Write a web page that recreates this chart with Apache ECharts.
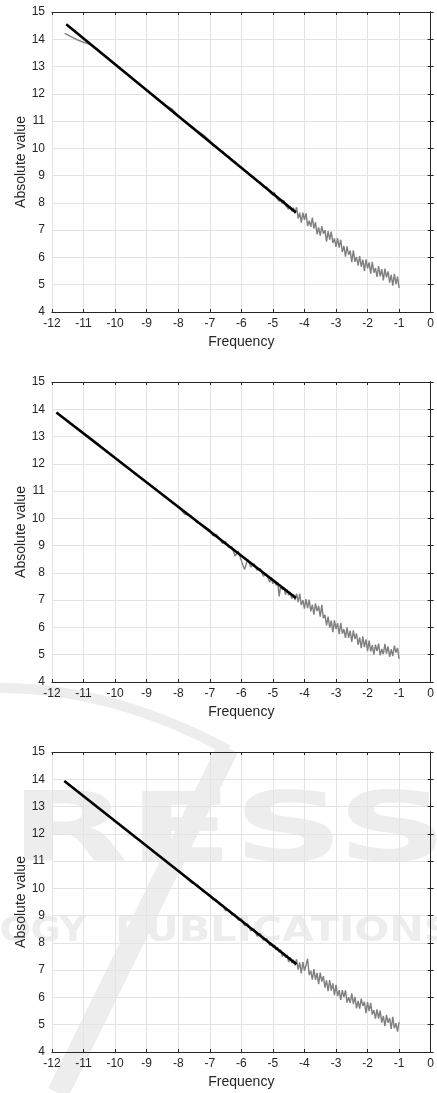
<!DOCTYPE html>
<html>
<head>
<meta charset="utf-8">
<script src="https://cdn.jsdelivr.net/npm/echarts@6/dist/echarts.min.js"></script>
<style>
  html, body { margin: 0; padding: 0; background: #fff; }
  #chart { width: 437px; height: 1093px; }
</style>
</head>
<body>
<div id="chart"></div>
<script>
// shared frequency grid of the measured (gray) curves
var freq = [
  -11.85, -11.6, -11.4, -11.2, -11.0, -10.8, -10.6, -10.4, -10.2, -10.0, -9.8, -9.6,
  -9.4, -9.2, -9.0, -8.8, -8.6, -8.4, -8.2, -8.0, -7.8, -7.6, -7.4, -7.2,
  -7.0, -6.9, -6.8, -6.7, -6.6, -6.5, -6.4, -6.3, -6.2, -6.1,
  -6.0, -5.9, -5.8, -5.7, -5.6, -5.5, -5.4, -5.3, -5.2, -5.1,
  -5.05, -5.00, -4.95, -4.90, -4.85, -4.80, -4.75, -4.70, -4.65, -4.60,
  -4.55, -4.50, -4.45, -4.40, -4.35, -4.30, -4.25, -4.20, -4.15, -4.10,
  -4.05, -4.00, -3.95, -3.90, -3.85, -3.80, -3.75, -3.70, -3.65, -3.60,
  -3.55, -3.50, -3.45, -3.40, -3.35, -3.30, -3.25, -3.20, -3.15, -3.10,
  -3.05, -3.00, -2.95, -2.90, -2.85, -2.80, -2.75, -2.70, -2.65, -2.60,
  -2.55, -2.50, -2.45, -2.40, -2.35, -2.30, -2.25, -2.20, -2.15, -2.10,
  -2.05, -2.00, -1.95, -1.90, -1.85, -1.80, -1.75, -1.70, -1.65, -1.60,
  -1.55, -1.50, -1.45, -1.40, -1.35, -1.30, -1.25, -1.20, -1.15, -1.10,
  -1.05, -1.00
];

// top plot
var abs1 = [
  null, 14.22, 14.10, 13.98, 13.89, 13.81, 13.66, 13.47, 13.28, 13.07, 12.90, 12.71,
  12.50, 12.33, 12.12, 11.95, 11.76, 11.58, 11.45, 11.20, 11.00, 10.84, 10.64, 10.50,
  10.28, 10.13, 10.08, 9.93, 9.90, 9.74, 9.70, 9.55, 9.51, 9.36,
  9.31, 9.18, 9.12, 8.98, 8.94, 8.79, 8.76, 8.60, 8.58, 8.40,
  8.44, 8.28, 8.38, 8.21, 8.27, 8.06, 8.14, 7.99, 8.09, 7.91,
  7.98, 7.77, 7.86, 7.69, 7.82, 7.62, 7.84, 7.43, 7.64, 7.28,
  7.64, 7.38, 7.62, 7.15, 7.35, 7.12, 7.46, 7.06, 7.29, 6.85,
  7.10, 6.80, 7.15, 6.87, 7.00, 6.58, 6.97, 6.65, 6.95, 6.53,
  6.70, 6.39, 6.71, 6.36, 6.65, 6.20, 6.42, 6.03, 6.41, 6.10,
  6.25, 5.83, 6.26, 5.84, 6.02, 5.70, 6.05, 5.66, 5.92, 5.50,
  5.93, 5.60, 5.82, 5.41, 5.84, 5.44, 5.61, 5.29, 5.68, 5.31,
  5.57, 5.16, 5.59, 5.27, 5.49, 5.08, 5.36, 4.97, 5.40, 5.02,
  5.30, 4.88
];
var fit1 = [[-11.55, 14.55], [-4.27, 7.65]];

// middle plot
var abs2 = [
  13.88, 13.66, 13.48, 13.31, 13.14, 12.97, 12.79, 12.60, 12.41, 12.22, 12.03, 11.86,
  11.67, 11.50, 11.31, 11.15, 10.95, 10.79, 10.58, 10.44, 10.16, 10.10, 9.84, 9.74,
  9.58, 9.36, 9.42, 9.28, 9.08, 9.15, 8.93, 8.96, 8.62, 8.80,
  8.45, 8.12, 8.50, 8.22, 8.34, 8.10, 8.16, 7.88, 7.96, 7.66,
  7.84, 7.60, 7.74, 7.55, 7.66, 7.14, 7.56, 7.38, 7.47, 7.20,
  7.38, 7.18, 7.30, 7.06, 7.22, 7.00, 7.24, 6.93, 7.24, 6.82,
  7.00, 6.69, 7.04, 6.71, 7.02, 6.59, 6.84, 6.47, 6.88, 6.60,
  6.79, 6.40, 6.83, 6.34, 6.46, 6.08, 6.40, 5.99, 6.25, 5.83,
  6.26, 5.94, 6.16, 5.75, 6.17, 5.77, 5.94, 5.62, 6.00, 5.62,
  5.88, 5.47, 5.89, 5.57, 5.78, 5.36, 5.64, 5.24, 5.67, 5.28,
  5.56, 5.13, 5.52, 5.12, 5.35, 5.00, 5.37, 5.13, 5.41, 4.98,
  5.21, 5.02, 5.40, 5.04, 5.31, 4.92, 5.20, 4.95, 5.33, 5.08,
  5.25, 4.85
];
var fit2 = [[-11.86, 13.88], [-4.27, 7.08]];

// bottom plot
var abs3 = [
  null, 13.93, 13.76, 13.56, 13.39, 13.21, 13.01, 12.85, 12.64, 12.48, 12.28, 12.11,
  11.91, 11.75, 11.55, 11.38, 11.18, 11.02, 10.82, 10.65, 10.45, 10.22, 10.12, 9.89,
  9.76, 9.58, 9.60, 9.42, 9.40, 9.18, 9.22, 9.03, 9.05, 8.84,
  8.88, 8.64, 8.70, 8.44, 8.52, 8.25, 8.34, 8.10, 8.16, 7.90,
  8.00, 7.84, 7.93, 7.74, 7.84, 7.66, 7.75, 7.50, 7.64, 7.46,
  7.56, 7.30, 7.47, 7.26, 7.38, 7.18, 7.40, 7.02, 7.29, 6.88,
  7.30, 6.98, 7.19, 7.42, 6.82, 6.98, 6.65, 7.04, 6.65, 6.90,
  6.49, 6.91, 6.58, 6.78, 6.36, 6.63, 6.23, 6.64, 6.25, 6.52,
  6.08, 6.46, 6.05, 6.27, 5.91, 6.27, 6.01, 6.26, 5.81, 6.01,
  5.80, 6.15, 5.76, 6.02, 5.60, 5.87, 5.59, 5.96, 5.69, 5.84,
  5.42, 5.83, 5.50, 5.80, 5.37, 5.54, 5.22, 5.56, 5.22, 5.52,
  5.08, 5.32, 4.95, 5.36, 5.07, 5.25, 4.85, 5.29, 4.87, 5.06,
  4.75, 5.10
];
var fit3 = [[-11.61, 13.94], [-4.25, 7.22]];

var xTicks = { min: -12, max: 0, interval: 1 };
var yTicks = { min: 4, max: 15, interval: 1 };
var gridTops = [12, 382, 752];

var axisColor = '#262626';
var font = 'Liberation Sans, Arial, sans-serif';

function pairs(ys) {
  var out = [];
  for (var i = 0; i < freq.length; i++) {
    if (ys[i] !== null) out.push([freq[i], ys[i]]);
  }
  return out;
}

var grids = [], xAxes = [], yAxes = [], series = [];
var grays = [abs1, abs2, abs3];
var fits = [fit1, fit2, fit3];

for (var g = 0; g < 3; g++) {
  grids.push({ left: 52, right: 5, top: gridTops[g], height: 300 });

  xAxes.push({
    type: 'value', gridIndex: g, position: 'bottom',
    min: xTicks.min, max: xTicks.max, interval: xTicks.interval,
    name: 'Frequency', nameLocation: 'middle', nameGap: 23,
    nameTextStyle: { color: axisColor, fontSize: 14, fontFamily: font },
    axisLine: { lineStyle: { color: axisColor, width: 1 } },
    axisTick: { inside: true, length: 3, lineStyle: { color: axisColor } },
    axisLabel: { color: axisColor, fontSize: 12, fontFamily: font, margin: 6, showMinLabel: true, showMaxLabel: true },
    splitLine: { show: true, lineStyle: { color: '#e3e3e3', width: 1 } }
  });
  xAxes.push({
    type: 'value', gridIndex: g, position: 'top',
    min: xTicks.min, max: xTicks.max, interval: xTicks.interval,
    axisLine: { lineStyle: { color: axisColor, width: 1 } },
    axisTick: { inside: true, length: 3, lineStyle: { color: axisColor } },
    axisLabel: { show: false },
    splitLine: { show: false }
  });

  yAxes.push({
    type: 'value', gridIndex: g, position: 'left',
    min: yTicks.min, max: yTicks.max, interval: yTicks.interval,
    name: 'Absolute value', nameLocation: 'middle', nameGap: 24, nameMoveOverlap: false,
    nameTextStyle: { color: axisColor, fontSize: 14, fontFamily: font },
    axisLine: { show: true, lineStyle: { color: axisColor, width: 1 } },
    axisTick: { show: true, inside: true, length: 3, lineStyle: { color: axisColor } },
    axisLabel: { color: axisColor, fontSize: 12, fontFamily: font, margin: 7, showMinLabel: true, showMaxLabel: true },
    splitLine: { show: true, lineStyle: { color: '#e3e3e3', width: 1 } }
  });
  yAxes.push({
    type: 'value', gridIndex: g, position: 'right',
    min: yTicks.min, max: yTicks.max, interval: yTicks.interval,
    axisLine: { show: true, lineStyle: { color: axisColor, width: 1 } },
    axisTick: { show: true, inside: true, length: 3, lineStyle: { color: axisColor } },
    axisLabel: { show: false },
    splitLine: { show: false }
  });

  series.push({
    type: 'line', xAxisIndex: g * 2, yAxisIndex: g * 2,
    data: pairs(grays[g]), showSymbol: false, symbol: 'none',
    lineStyle: { color: '#808080', width: 1.4 }, z: 3
  });
  series.push({
    type: 'line', xAxisIndex: g * 2, yAxisIndex: g * 2,
    data: fits[g], showSymbol: false, symbol: 'none',
    lineStyle: { color: '#000000', width: 2.6 }, z: 4
  });
}

// faint publisher watermark behind the lower plots
var wm = '#ededed';
var chart = echarts.init(document.getElementById('chart'));
chart.setOption({
  animation: false,
  backgroundColor: '#ffffff',
  graphic: {
    elements: [
      { type: 'bezierCurve', z: -10, silent: true,
        shape: { x1: -5, y1: 688, x2: 228, y2: 750, cpx1: 110, cpy1: 686 },
        style: { stroke: wm, lineWidth: 10, fill: null } },
      { type: 'line', z: -10, silent: true,
        shape: { x1: 228, y1: 748, x2: 58, y2: 1093 },
        style: { stroke: wm, lineWidth: 22 } },
      { type: 'text', z: -9, silent: true, x: 10, y: 788, scaleX: 1.6, originX: 0, originY: 0,
        style: { text: 'RESS', font: 'bold 96px DejaVu Sans', fill: wm, textAlign: 'left', textVerticalAlign: 'top', align: 'left', verticalAlign: 'top' } },
      { type: 'text', z: -9, silent: true, x: 86, y: 916, scaleX: 1.1, originX: 0, originY: 0,
        style: { text: 'TECHNOLOGY', font: 'bold 33px DejaVu Sans', fill: wm, textAlign: 'right', textVerticalAlign: 'top', align: 'right', verticalAlign: 'top' } },
      { type: 'text', z: -9, silent: true, x: 115, y: 916, scaleX: 1.25, originX: 0, originY: 0,
        style: { text: 'PUBLICATIONS', font: 'bold 33px DejaVu Sans', fill: wm, textAlign: 'left', textVerticalAlign: 'top', align: 'left', verticalAlign: 'top' } }
    ]
  },
  grid: grids,
  xAxis: xAxes,
  yAxis: yAxes,
  series: series
});
window.addEventListener('resize', chart.resize);
</script>
</body>
</html>
